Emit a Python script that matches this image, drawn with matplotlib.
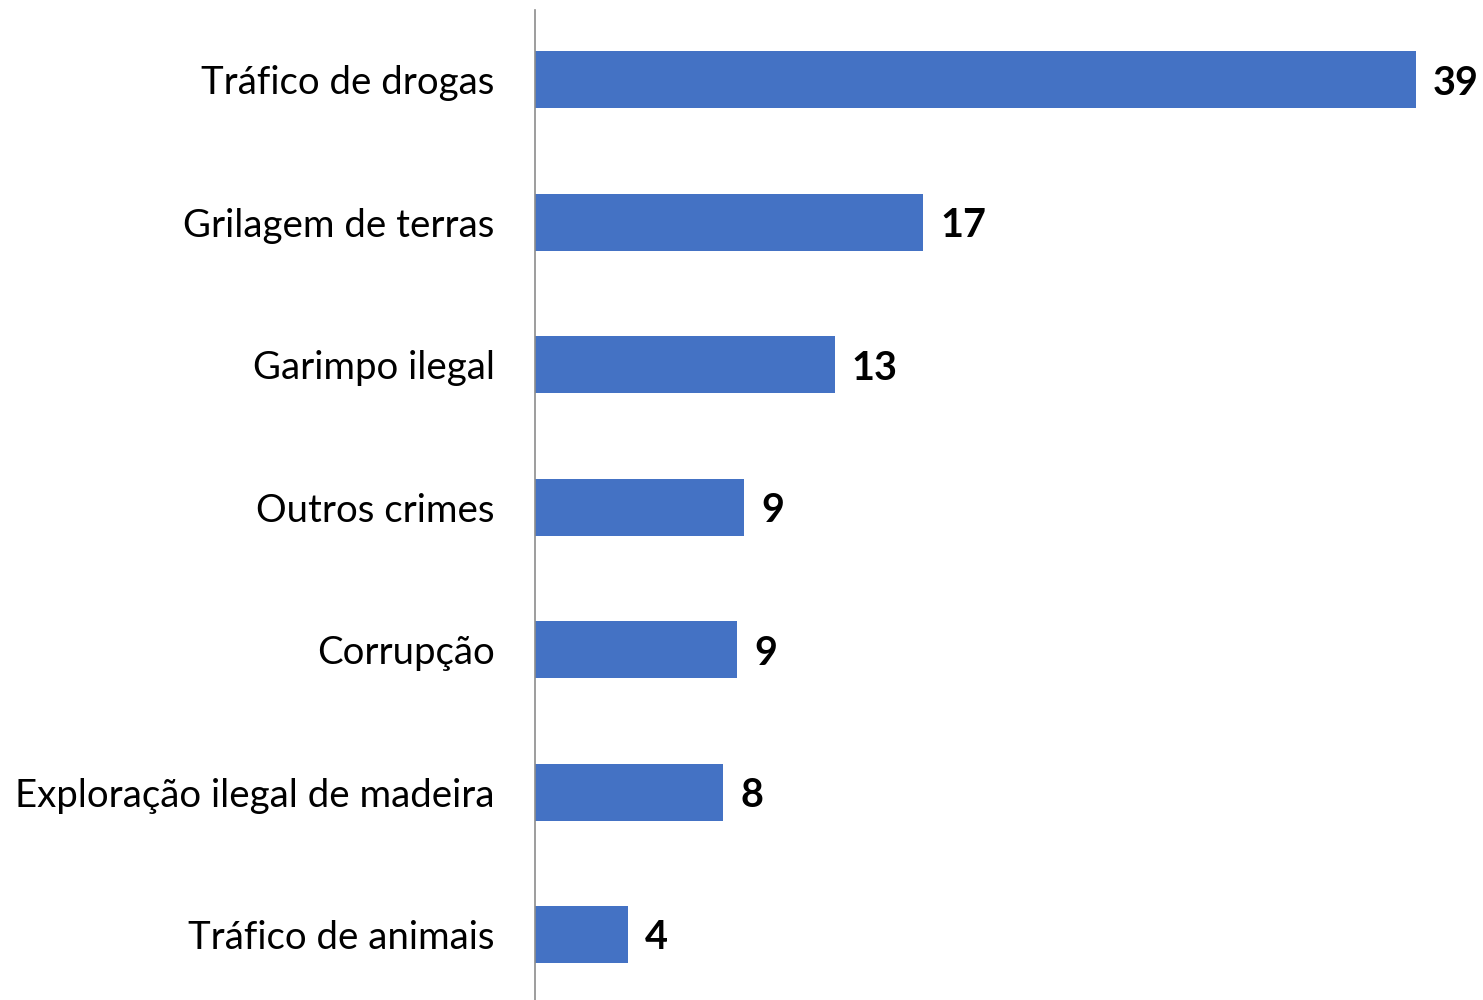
import matplotlib

matplotlib.use("Agg")
import matplotlib.pyplot as plt

categories = [
    "Tráfico de drogas",
    "Grilagem de terras",
    "Garimpo ilegal",
    "Outros crimes",
    "Corrupção",
    "Exploração ilegal de madeira",
    "Tráfico de animais",
]
values = [38.8, 17.1, 13.2, 9.2, 8.9, 8.3, 4.1]
labels = ["39", "17", "13", "9", "9", "8", "4"]

plt.rcParams["font.family"] = ["Lato", "DejaVu Sans"]

fig = plt.figure(figsize=(14.83, 10), dpi=100)
ax = fig.add_axes([535 / 1483, 0.0, 1 - 535 / 1483, 0.99])

pos = list(range(len(categories)))
ax.barh(pos, values, height=0.4, color="#4472C4")
for y, v, lab in zip(pos, values, labels):
    ax.text(v + 0.75, y, lab, va="center_baseline", ha="left", fontsize=28.5,
            fontweight="bold", color="black")

ax.set_xlim(0, 41.76)
ax.set_ylim(6.46, -0.49)
ax.set_yticks(pos)
ax.set_yticklabels(categories, fontsize=27.6)
ax.tick_params(axis="y", length=0, pad=29)
ax.set_xticks([])
for side in ["top", "right", "bottom"]:
    ax.spines[side].set_visible(False)
ax.spines["left"].set_color("#8c8c8c")
ax.spines["left"].set_linewidth(1.2)

fig.savefig("out.png", dpi=100)
